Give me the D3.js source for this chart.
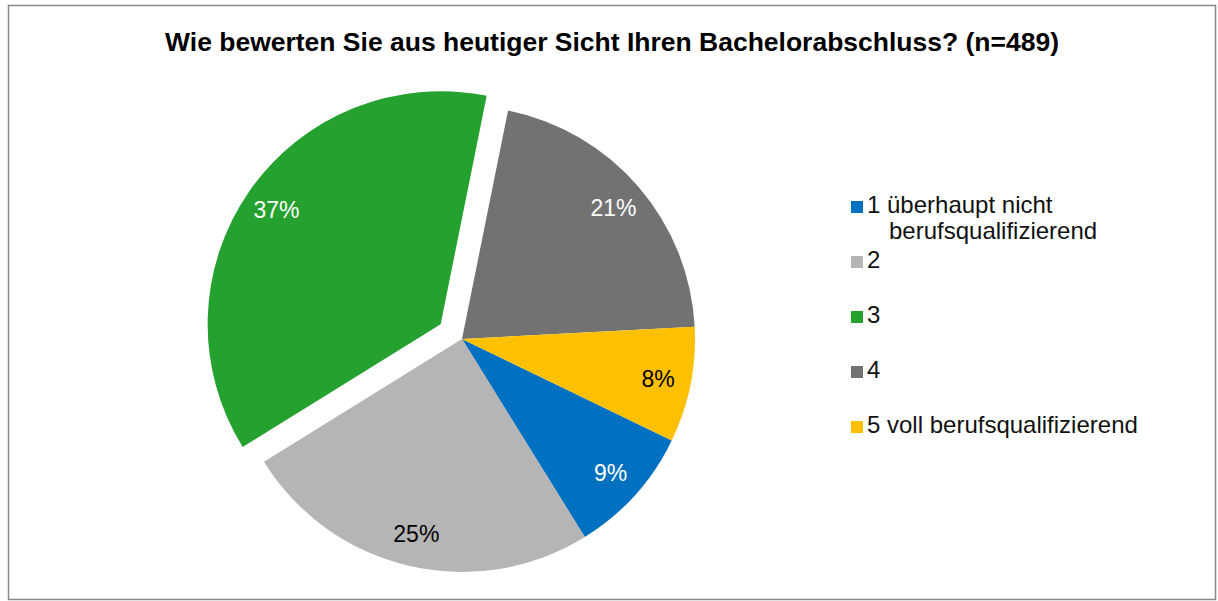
<!DOCTYPE html>
<html>
<head>
<meta charset="utf-8">
<script src="https://cdn.jsdelivr.net/npm/d3@7"></script>
<style>
  body { margin: 0; background: #fff; }
  svg text { font-family: "Liberation Sans", Arial, sans-serif; }
</style>
</head>
<body>
<div id="chart"></div>
<script>
// pie chart: rating of bachelor degree

const categories = ["1 überhaupt nicht berufsqualifizierend", "2", "3", "4", "5 voll berufsqualifizierend"];
const legendLines = [["1 überhaupt nicht", "berufsqualifizierend"], ["2"], ["3"], ["4"], ["5 voll berufsqualifizierend"]];
const values = [9, 25, 37, 21, 8];
const colors = ["#0070C0", "#B5B5B5", "#24A12F", "#727272", "#FFC000"];
const labelColors = ["#fff", "#000", "#fff", "#fff", "#000"];
const exploded = [false, false, true, false, false];
const title = "Wie bewerten Sie aus heutiger Sicht Ihren Bachelorabschluss? (n=489)";

const W = 1218, H = 601;
const cx = 462, cy = 339, radius = 233, labelR = 200, explode = 26;
const startDeg = 115.8;

const svg = d3.select("#chart")
  .append("svg")
  .attr("width", W)
  .attr("height", H);

// frame
svg.append("rect")
  .attr("x", 8.5)
  .attr("y", 5.5)
  .attr("width", 1207)
  .attr("height", 594)
  .attr("fill", "#fff")
  .attr("stroke", "#898989")
  .attr("stroke-width", 1.5);

svg.append("text")
  .attr("x", 165)
  .attr("y", 51)
  .attr("textLength", 894)
  .attr("lengthAdjust", "spacingAndGlyphs")
  .style("font-size", "25px")
  .style("font-weight", "bold")
  .text(title);

const pie = d3.pie()
  .sort(null)
  .value((d) => d)
  .startAngle(startDeg * Math.PI / 180)
  .endAngle(startDeg * Math.PI / 180 + 2 * Math.PI);

const arcs = pie(values);
const arc = d3.arc().innerRadius(0).outerRadius(radius);
const labelArc = d3.arc().innerRadius(labelR).outerRadius(labelR);

const pieG = svg.append("g").attr("transform", `translate(${cx},${cy})`);

const slice = pieG.selectAll(".slice")
  .data(arcs)
  .enter()
  .append("g")
  .attr("class", "slice")
  .attr("transform", (d, i) => {
    if (!exploded[i]) return null;
    const a = (d.startAngle + d.endAngle) / 2;
    return `translate(${Math.sin(a) * explode},${-Math.cos(a) * explode})`;
  });

slice.append("path")
  .attr("d", arc)
  .attr("fill", (d, i) => colors[i]);

slice.append("text")
  .attr("transform", (d) => `translate(${labelArc.centroid(d)})`)
  .attr("text-anchor", "middle")
  .attr("dy", "0.35em")
  .style("font-size", "23px")
  .attr("fill", (d, i) => labelColors[i])
  .text((d) => d.data + "%");

// legend
const legendX = 851, legendY0 = 213, legendStep = 55;
const legend = svg.append("g")
  .selectAll(".legend-item")
  .data(categories)
  .enter()
  .append("g")
  .attr("class", "legend-item")
  .attr("transform", (d, i) => `translate(${legendX},${legendY0 + i * legendStep})`);

legend.append("rect")
  .attr("x", 0)
  .attr("y", -12)
  .attr("width", 12)
  .attr("height", 12)
  .attr("fill", (d, i) => colors[i]);

legend.append("text")
  .style("font-size", "24px")
  .attr("fill", "#111")
  .each(function (d, i) {
    const t = d3.select(this);
    legendLines[i].forEach((line, j) => {
      t.append("tspan")
        .attr("x", j === 0 ? 16 : 38)
        .attr("y", j * 26)
        .text(line);
    });
  });
</script>
</body>
</html>
